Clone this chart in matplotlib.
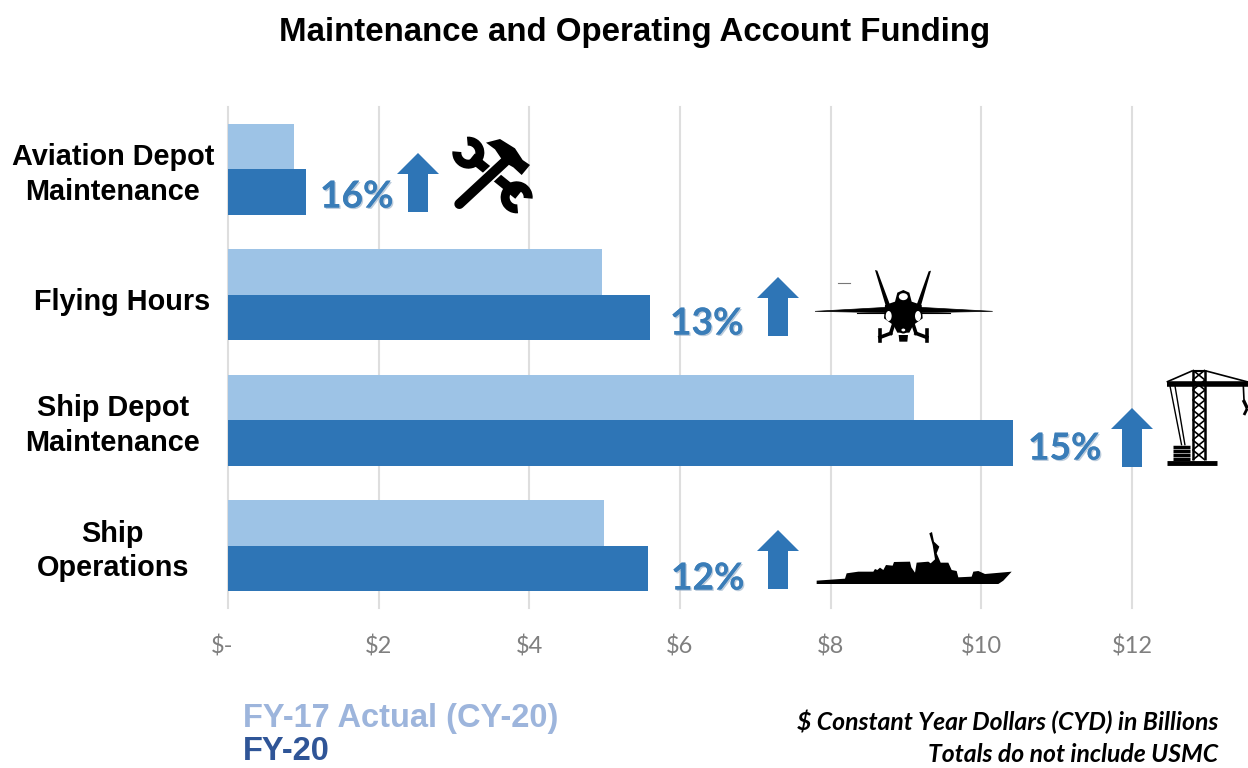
"""
Maintenance and Operating Account Funding, horizontal grouped bars.
"""

import matplotlib
matplotlib.use('Agg')
import matplotlib.patheffects as pe
import matplotlib.pyplot as plt
import numpy as np
from matplotlib.patches import Ellipse, Polygon, Wedge
from matplotlib.transforms import ScaledTranslation

categories = ['Aviation Depot\nMaintenance', 'Flying Hours', 'Ship Depot\nMaintenance', 'Ship\nOperations']
fy17 = [0.88, 4.97, 9.10, 4.99]
fy20 = [1.03, 5.60, 10.42, 5.58]
pct_labels = ['16%', '13%', '15%', '12%']
tick_vals = [0, 2, 4, 6, 8, 10, 12]
tick_labels = ['$-', '$2', '$4', '$6', '$8', '$10', '$12']

W, H = 1248, 768
LIGHT, DARK = '#9DC3E6', '#2E75B6'
PCT_COLOR = '#3A7DB8'
ARIAL = 'Liberation Sans'
CALIBRI = 'Lato'


def draw_arrow(ax, xc, top, bottom):
  """Block arrow pointing up, in pixel coordinates."""
  head_y = top + 21
  pts = [(xc-21, head_y), (xc, top), (xc+21, head_y), (xc+10, head_y), (xc+10, bottom), (xc-10, bottom), (xc-10, head_y)]
  ax.add_patch(Polygon(pts, closed=True, fc=DARK, ec='none'))


def from_zoom(pts, x0, y0):
  return [(x0 + x/3, y0 + y/3) for x, y in pts]


def draw_tools(ax):
  """Crossed hammer and wrench."""
  z = lambda pts: from_zoom(pts, 300, 120)
  # wrench shaft and heads
  ax.plot(*zip(*z([(515, 112), (655, 225)])), color='k', lw=7, solid_capstyle='butt', zorder=5)
  ax.add_patch(Wedge(z([(505, 98)])[0], 16, 265, 545, width=9, fc='k', ec='none', zorder=5))
  ax.add_patch(Wedge(z([(650, 232)])[0], 16, 85, 365, width=9, fc='k', ec='none', zorder=5))
  # hammer handle
  ax.plot(*zip(*z([(478, 252), (615, 125)])), color='w', lw=10, solid_capstyle='round', zorder=6)
  ax.plot(*zip(*z([(478, 252), (615, 125)])), color='k', lw=7.2, solid_capstyle='round', zorder=7)
  head = [(558, 68), (600, 57), (645, 85), (668, 120), (690, 135), (665, 165), (640, 142), (610, 125), (585, 88)]
  ax.add_patch(Polygon(z(head), closed=True, fc='k', ec='none', zorder=7))


def draw_jet(ax):
  """Fighter jet seen from the front."""
  z = lambda pts: from_zoom(pts, 650, 250)
  ax.plot(*zip(*z([(565, 100), (600, 100)])), color='#777777', lw=0.8, zorder=5)
  ax.add_patch(Polygon(z([(495, 184), (710, 172), (810, 172), (1028, 184), (810, 188), (710, 188)]), closed=True, fc='k', ec='k', lw=0.5, zorder=5))
  ax.plot(*zip(*z([(620, 190), (710, 190)])), color='k', lw=0.8, zorder=5)
  ax.plot(*zip(*z([(810, 190), (900, 190)])), color='k', lw=0.8, zorder=5)
  ax.add_patch(Polygon(z([(675, 60), (682, 62), (722, 170), (708, 170)]), closed=True, fc='k', ec='none', zorder=5))
  ax.add_patch(Polygon(z([(843, 62), (836, 64), (798, 170), (812, 170)]), closed=True, fc='k', ec='none', zorder=5))
  body = [(735, 155), (742, 128), (760, 120), (778, 128), (785, 155), (815, 165), (818, 205), (790, 225), (778, 248), (742, 248), (730, 225), (702, 205), (705, 165)]
  ax.add_patch(Polygon(z(body), closed=True, fc='k', ec='none', zorder=5))
  ax.add_patch(Ellipse(z([(760, 140)])[0], 9, 7, fc='w', ec='none', zorder=6))
  ax.add_patch(Ellipse(z([(716, 198)])[0], 6, 10, fc='w', ec='none', zorder=6))
  ax.add_patch(Ellipse(z([(804, 198)])[0], 6, 10, fc='w', ec='none', zorder=6))
  ax.add_patch(Ellipse(z([(760, 240)])[0], 6, 5, fc='w', ec='k', lw=1.5, zorder=6))
  for pts in [[(690, 240), (690, 274)], [(690, 262), (722, 250)], [(722, 250), (730, 225)], [(830, 240), (830, 274)], [(830, 262), (798, 250)], [(798, 250), (790, 225)]]:
    ax.plot(*zip(*z(pts)), color='k', lw=2.6, zorder=5)
  ax.add_patch(Polygon(z([(746, 255), (774, 255), (772, 275), (748, 275)]), closed=True, fc='k', ec='none', zorder=5))


def draw_crane(ax):
  """Shipyard crane, cut off by the right edge."""
  z = lambda pts: from_zoom(pts, 1010, 360)
  line = lambda pts, lw: ax.plot(*zip(*z(pts)), color='k', lw=lw, solid_capstyle='butt', zorder=5)
  line([(470, 72), (720, 72)], 4)
  line([(470, 310), (620, 310)], 3.5)
  line([(548, 30), (548, 300)], 1.8)
  line([(585, 30), (585, 300)], 1.8)
  for y in np.arange(30, 300, 30):
    line([(548, y), (585, y+30)], 1.2)
    line([(585, y), (548, y+30)], 1.2)
  line([(548, 32), (585, 32)], 1.5)
  line([(548, 32), (470, 66)], 1.2)
  line([(585, 32), (714, 66)], 1.2)
  line([(480, 78), (515, 256)], 1.0)
  line([(495, 78), (525, 256)], 1.0)
  for y in [261, 273, 285, 297]:
    line([(490, y), (540, y)], 2.5)
  line([(700, 78), (702, 120)], 1.2)
  line([(700, 120), (712, 145)], 2.4)
  line([(712, 145), (702, 165)], 2.0)


def draw_ship(ax):
  """Destroyer silhouette."""
  outline = [(500, 182), (585, 176), (590, 160), (625, 155), (670, 155), (675, 147), (682, 150), (690, 143), (700, 150), (708, 135),
             (728, 137), (732, 126), (780, 125), (784, 142), (795, 158), (800, 128), (835, 125), (842, 130), (855, 118),
             (848, 75), (838, 40), (846, 36), (852, 65), (868, 80), (860, 100), (872, 128), (895, 128), (905, 150),
             (920, 153), (925, 172), (965, 170), (970, 155), (985, 153), (1005, 162), (1085, 155), (1060, 182), (1045, 192),
             (500, 192)]
  ax.add_patch(Polygon(from_zoom(outline, 650, 520), closed=True, fc='k', ec='none', zorder=5))


def percent_text(ax, x, y, txt):
  """Percent label with its soft shadow."""
  ax.text(x, y, txt, family=CALIBRI, weight='bold', fontsize=26.7, color=PCT_COLOR, ha='left', va='center', zorder=6,
          path_effects=[pe.withSimplePatchShadow(offset=(1, -1), shadow_rgbFace='#8FA9C4', alpha=0.6), pe.Normal()])


def shift_label(label, dx, dy):
  """Move a tick label by some pixels."""
  label.set_transform(label.get_transform() + ScaledTranslation(dx/100, dy/100, fig.dpi_scale_trans))


fig = plt.figure(figsize=(W/100, H/100), dpi=100)

# Bars.
ax = fig.add_axes([228/W, 1 - 608.3/H, (W-228)/W, 501.6/H])
y = np.arange(len(categories))
bar_h = 0.363
ax.barh(y - bar_h/2, fy17, height=bar_h, color=LIGHT, zorder=3)
ax.barh(y + bar_h/2, fy20, height=bar_h, color=DARK, zorder=3)
ax.set_xlim(0, (W-228)/75.33)
ax.set_ylim(3.5, -0.5)
ax.set_xticks(tick_vals, tick_labels, family=CALIBRI, fontsize=17, color='#7F7F7F')
ax.set_yticks(y, categories, family=ARIAL, weight='bold', fontsize=20.8, color='k', linespacing=1.3, ha='center')
ax.tick_params(axis='x', length=0, pad=19.5)
ax.tick_params(axis='y', length=0, pad=83)
shift_label(ax.xaxis.get_ticklabels()[0], -6, 0)
for i, label in enumerate(ax.yaxis.get_ticklabels()):
  shift_label(label, 9.5 if i == 1 else 0, -4 if i == 1 else 1)
ax.grid(axis='x', color='#DEDEDE', lw=1.5, zorder=0)
for gl in ax.get_xgridlines():
  gl.set_clip_on(False)
ax.set_axisbelow(True)
for spine in ax.spines.values():
  spine.set_visible(False)

# Overlay in page pixels for annotations and icons.
ov = fig.add_axes([0, 0, 1, 1], facecolor='none')
ov.set_xlim(0, W)
ov.set_ylim(H, 0)
ov.axis('off')

ov.text(635, 33, 'Maintenance and Operating Account Funding', family=ARIAL, weight='bold', fontsize=23.8, ha='center', va='center')

for txt, px, py in zip(pct_labels, [320, 670, 1028, 671], [197, 324, 449, 579]):
  percent_text(ov, px, py, txt)
for xc, top, bottom in [(418, 153, 212), (778, 277, 336), (1132, 408, 467), (778, 530, 589)]:
  draw_arrow(ov, xc, top, bottom)

draw_tools(ov)
draw_jet(ov)
draw_crane(ov)
draw_ship(ov)

ov.text(243, 719, 'FY-17 Actual (CY-20)', family=ARIAL, weight='bold', fontsize=23.5, color='#9DB5DC', ha='left', va='center')
ov.text(243, 752, 'FY-20', family=ARIAL, weight='bold', fontsize=23.5, color='#2F5597', ha='left', va='center')
ov.text(1218, 722, '$ Constant Year Dollars (CYD) in Billions', family=CALIBRI, weight='bold', style='italic', fontsize=17.8, ha='right', va='center')
ov.text(1218, 754, 'Totals do not include USMC', family=CALIBRI, weight='bold', style='italic', fontsize=17.8, ha='right', va='center')

fig.savefig('out.png', dpi=100)
